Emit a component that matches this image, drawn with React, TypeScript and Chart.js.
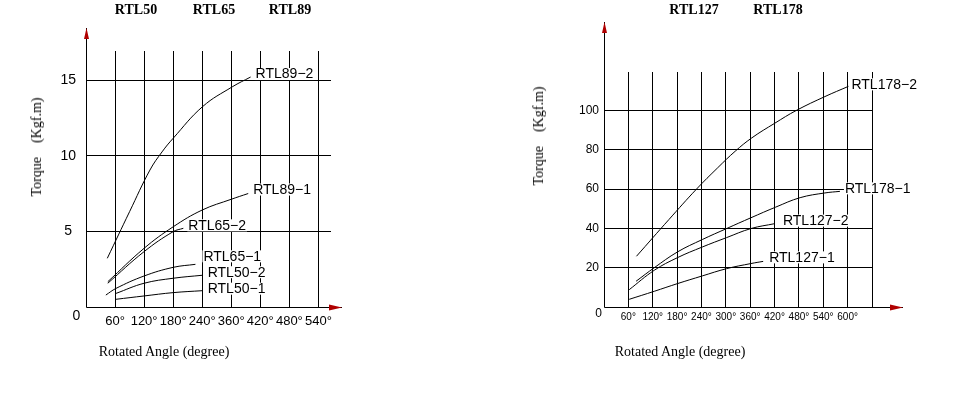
import React, { useEffect, useRef } from "react";
import { Chart, registerables } from "chart.js";

Chart.register(...registerables);

// ---------- Left chart (RTL50 / RTL65 / RTL89) ----------
const leftTickValues = [60, 120, 180, 240, 300, 360, 420, 480];
const leftTickLabels = ["60°", "120°", "180°", "240°", "360°", "420°", "480°", "540°"];
const leftYTicks = [5, 10, 15];
const leftModels = ["RTL50", "RTL65", "RTL89"];

const rtl89_2Angle = [44, 90, 132, 157, 180, 241, 302, 340];
const rtl89_2Torque = [3.22, 6.3, 9.05, 10.25, 11.15, 13.25, 14.55, 15.2];
const rtl89_1Angle = [45, 120, 180, 240, 300, 335];
const rtl89_1Torque = [1.67, 3.88, 5.3, 6.41, 7.12, 7.5];
const rtl65_2Angle = [45, 120, 180, 201];
const rtl65_2Torque = [1.57, 3.66, 4.98, 5.2];
const rtl65_1Angle = [41, 62, 120, 180, 226];
const rtl65_1Torque = [0.79, 1.23, 2.05, 2.62, 2.82];
const rtl50_2Angle = [62, 120, 180, 241];
const rtl50_2Torque = [0.9, 1.57, 1.9, 2.1];
const rtl50_1Angle = [62, 120, 180, 241];
const rtl50_1Torque = [0.51, 0.73, 0.95, 1.08];

// ---------- Right chart (RTL127 / RTL178) ----------
const rightTickValues = [60, 120, 180, 240, 300, 360, 420, 480, 540, 600, 660];
const rightTickLabels = ["60°", "120°", "180°", "240°", "300°", "360°", "420°", "480°", "540°", "600°", ""];
const rightYTicks = [20, 40, 60, 80, 100];
const rightModels = ["RTL127", "RTL178"];

const rtl178_2Angle = [80, 160, 228, 280, 323, 364, 421, 474, 544, 602];
const rtl178_2Torque = [25.8, 44.5, 60, 70.8, 79.2, 86, 93.5, 100, 107, 112.2];
const rtl178_1Angle = [79, 124, 181, 242, 302, 362, 423, 483, 544, 581];
const rtl178_1Torque = [13.1, 20.0, 28.0, 34.3, 39.9, 45.4, 50.8, 55.6, 58.0, 58.8];
const rtl127_2Angle = [62, 124, 181, 242, 302, 362, 421];
const rtl127_2Torque = [8.8, 18.7, 25.1, 30.5, 35.3, 39.9, 42.4];
const rtl127_1Angle = [62, 124, 181, 242, 302, 362, 392];
const rtl127_1Torque = [3.9, 8.0, 11.9, 15.8, 19.5, 22.1, 23.2];

const SANS = "'Liberation Sans', Arial, sans-serif";
const SERIF = "'Liberation Serif', 'Times New Roman', serif";

const pts = (xs: number[], ys: number[]) => xs.map((x, i) => ({ x, y: ys[i] }));

const line = (label: string, xs: number[], ys: number[]) => ({
  label,
  data: pts(xs, ys),
  showLine: true,
  borderColor: "#000",
  borderWidth: 1,
  pointRadius: 0,
  fill: false,
  tension: 0.4,
});

const axisPlugin = {
  id: "arrowAxes",
  afterDraw(chart: any, _args: any, opts: any) {
    const { ctx, chartArea: a } = chart;
    const ox = Math.round(a.left) + 0.5;
    const oy = Math.round(a.bottom) + 0.5;
    const xt = a.right + opts.xExtend;
    const yt = a.top - opts.yExtend;
    ctx.save();
    ctx.strokeStyle = "#000";
    ctx.lineWidth = 1;
    ctx.beginPath();
    ctx.moveTo(ox, oy);
    ctx.lineTo(xt, oy);
    ctx.moveTo(ox, oy);
    ctx.lineTo(ox, yt);
    ctx.stroke();
    ctx.fillStyle = "#b00000";
    ctx.beginPath();
    ctx.moveTo(xt, oy);
    ctx.lineTo(xt - 13, oy - 3);
    ctx.lineTo(xt - 13, oy + 3);
    ctx.closePath();
    ctx.fill();
    ctx.beginPath();
    ctx.moveTo(ox, yt);
    ctx.lineTo(ox - 2.5, yt + 11);
    ctx.lineTo(ox + 2.5, yt + 11);
    ctx.closePath();
    ctx.fill();
    ctx.fillStyle = "#000";
    ctx.font = opts.zeroFont;
    ctx.textAlign = "center";
    ctx.textBaseline = "middle";
    ctx.fillText("0", ox + opts.zeroDx, oy + opts.zeroDy);
    ctx.restore();
  },
};

const labelPlugin = {
  id: "curveLabels",
  afterDatasetsDraw(chart: any, _args: any, opts: any) {
    const ctx = chart.ctx;
    ctx.save();
    ctx.font = opts.font;
    ctx.textBaseline = "middle";
    ctx.textAlign = "left";
    chart.data.datasets.forEach((ds: any, i: number) => {
      const meta = chart.getDatasetMeta(i);
      const pt = meta.data[meta.data.length - 1];
      const n = (opts.nudges && opts.nudges[i]) || [0, 0];
      const x = pt.x + opts.dx + n[0];
      const y = pt.y + opts.dy + n[1];
      const w = ctx.measureText(ds.label).width;
      ctx.fillStyle = "#fff";
      ctx.fillRect(x - 1, y - 6, w + 2, 12);
      ctx.fillStyle = "#000";
      ctx.fillText(ds.label, x, y + 0.5);
    });
    ctx.restore();
  },
};

function makeConfig(p: {
  datasets: any[];
  xMax: number;
  yMax: number;
  xTicks: number[];
  xLabels: string[];
  yTicks: number[];
  yAxisWidth: number;
  padding: any;
  xFont: number;
  xPad: number;
  yFont: number;
  yPad: number;
  yAlign: string;
  arrows: any;
  labels: any;
}): any {
  return {
    type: "scatter",
    data: { datasets: p.datasets },
    plugins: [axisPlugin, labelPlugin],
    options: {
      responsive: false,
      animation: false,
      devicePixelRatio: 1,
      layout: { padding: p.padding },
      plugins: {
        legend: { display: false },
        tooltip: { enabled: false },
        arrowAxes: p.arrows,
        curveLabels: p.labels,
      },
      scales: {
        x: {
          type: "linear",
          position: "bottom",
          min: 0,
          max: p.xMax,
          afterBuildTicks: (s: any) => {
            s.ticks = p.xTicks.map((v) => ({ value: v }));
          },
          afterFit: (s: any) => {
            s.height = 30;
          },
          grid: { color: "#000", lineWidth: 1, drawTicks: false },
          border: { display: false },
          ticks: {
            autoSkip: false,
            maxRotation: 0,
            padding: p.xPad,
            color: "#000",
            font: { family: SANS, size: p.xFont },
            callback: (_v: any, i: number) => p.xLabels[i],
          },
        },
        y: {
          type: "linear",
          min: 0,
          max: p.yMax,
          afterBuildTicks: (s: any) => {
            s.ticks = p.yTicks.map((v) => ({ value: v }));
          },
          afterFit: (s: any) => {
            s.width = p.yAxisWidth;
          },
          grid: { color: "#000", lineWidth: 1, drawTicks: false },
          border: { display: false },
          ticks: {
            padding: p.yPad,
            crossAlign: p.yAlign,
            color: "#000",
            font: { family: SANS, size: p.yFont },
            callback: (v: any) => String(v),
          },
        },
      },
    },
  };
}

function ChartCanvas({ config, left, width, height }: { config: any; left: number; width: number; height: number }) {
  const ref = useRef<HTMLCanvasElement>(null);
  useEffect(() => {
    const chart = new Chart(ref.current as HTMLCanvasElement, config);
    return () => chart.destroy();
  }, []);
  return (
    <canvas
      ref={ref}
      width={width}
      height={height}
      style={{ position: "absolute", left, top: 0, width, height }}
    />
  );
}

const textBase: React.CSSProperties = {
  position: "absolute",
  whiteSpace: "pre",
  color: "#000",
  fontFamily: SERIF,
};

function Title({ text, cx }: { text: string; cx: number }) {
  return (
    <div style={{ ...textBase, left: cx, top: 2, transform: "translateX(-50%)", fontWeight: "bold", fontSize: 14, lineHeight: "16px" }}>
      {text}
    </div>
  );
}

function XTitle({ cx }: { cx: number }) {
  return (
    <div style={{ ...textBase, left: cx, top: 344, transform: "translateX(-50%)", fontSize: 14, lineHeight: "16px" }}>
      Rotated Angle (degree)
    </div>
  );
}

function YTitle({ cx, cy }: { cx: number; cy: number }) {
  return (
    <div
      style={{
        ...textBase,
        left: cx,
        top: cy,
        transform: "translate(-50%, -50%) rotate(-90deg)",
        fontSize: 14,
        lineHeight: "16px",
      }}
    >
      {"Torque\u00a0\u00a0\u00a0\u00a0(Kgf.m)"}
    </div>
  );
}

export default function App() {
  const leftConfig = makeConfig({
    datasets: [
      line("RTL89\u22122", rtl89_2Angle, rtl89_2Torque),
      line("RTL89\u22121", rtl89_1Angle, rtl89_1Torque),
      line("RTL65\u22122", rtl65_2Angle, rtl65_2Torque),
      line("RTL65\u22121", rtl65_1Angle, rtl65_1Torque),
      line("RTL50\u22122", rtl50_2Angle, rtl50_2Torque),
      line("RTL50\u22121", rtl50_1Angle, rtl50_1Torque),
    ],
    xMax: 506,
    yMax: 16.92,
    xTicks: leftTickValues,
    xLabels: leftTickLabels,
    yTicks: leftYTicks,
    yAxisWidth: 86,
    padding: { left: 0, top: 51, right: 145, bottom: 60 },
    xFont: 13,
    xPad: 7,
    yFont: 14,
    yPad: 10,
    yAlign: "center",
    arrows: { xExtend: 11, yExtend: 23, zeroFont: `14px ${SANS}`, zeroDx: -10, zeroDy: 9 },
    labels: { font: `14px ${SANS}`, dx: 5, dy: -3, nudges: [[0, 0], [0, -1], [0, 0], [3, -5], [0, 0], [0, 1]] },
  });

  const rightConfig = makeConfig({
    datasets: [
      line("RTL178\u22122", rtl178_2Angle, rtl178_2Torque),
      line("RTL178\u22121", rtl178_1Angle, rtl178_1Torque),
      line("RTL127\u22122", rtl127_2Angle, rtl127_2Torque),
      line("RTL127\u22121", rtl127_1Angle, rtl127_1Torque),
    ],
    xMax: 660,
    yMax: 119.5,
    xTicks: rightTickValues,
    xLabels: rightTickLabels,
    yTicks: rightYTicks,
    yAxisWidth: 128,
    padding: { left: 0, top: 72, right: 81, bottom: 60 },
    xFont: 10,
    xPad: 4,
    yFont: 12,
    yPad: 5,
    yAlign: "near",
    arrows: { xExtend: 31, yExtend: 50, zeroFont: `12px ${SANS}`, zeroDx: -6, zeroDy: 6 },
    labels: { font: `14px ${SANS}`, dx: 3, dy: -2, nudges: [[0, 0], [2, -1], [5, -1], [3, -2]] },
  });

  return (
    <div style={{ position: "absolute", left: 0, top: 0, width: 953, height: 397, background: "#fff", overflow: "hidden" }}>
      <ChartCanvas config={leftConfig} left={0} width={476} height={397} />
      <ChartCanvas config={rightConfig} left={476} width={477} height={397} />
      <Title text={leftModels[0]} cx={136} />
      <Title text={leftModels[1]} cx={214} />
      <Title text={leftModels[2]} cx={290} />
      <Title text={rightModels[0]} cx={694} />
      <Title text={rightModels[1]} cx={778} />
      <XTitle cx={164} />
      <XTitle cx={680} />
      <YTitle cx={37} cy={147} />
      <YTitle cx={539} cy={136} />
    </div>
  );
}
